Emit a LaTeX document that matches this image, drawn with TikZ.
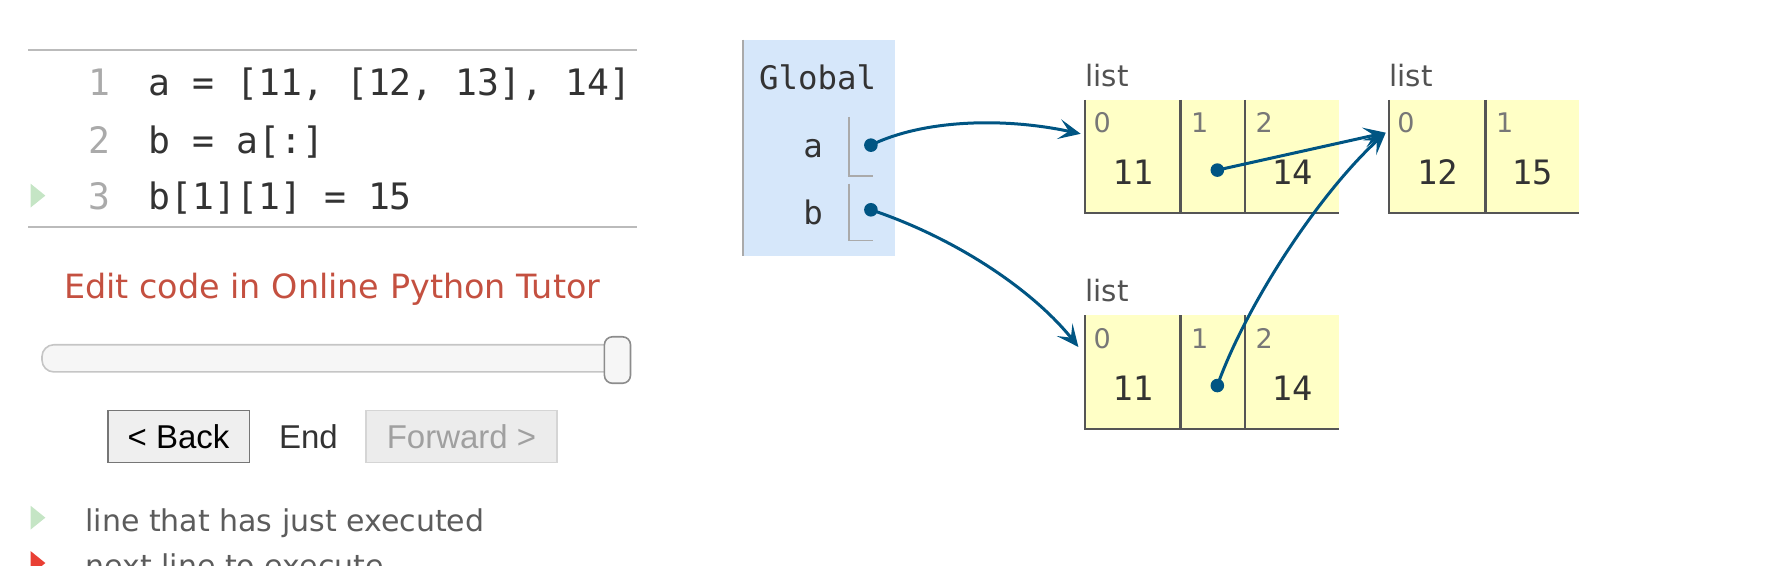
\documentclass[tikz,border=0pt]{standalone}
\usepackage{fontspec}
\setmainfont{DejaVu Sans}
\newfontfamily\codefont{DejaVu Sans Mono}
\newfontfamily\btnfont{Liberation Sans}
\usepackage{xcolor}
\usetikzlibrary{positioning, calc, arrows.meta}

\newcommand{\pxu}{0.567pt}

\definecolor{rulegray}{HTML}{BBBBBB}
\definecolor{codegray}{HTML}{333333}
\definecolor{linenogray}{HTML}{AAAAAA}
\definecolor{donegreen}{HTML}{C5E5C5}
\definecolor{nextred}{HTML}{E93F34}
\definecolor{editred}{RGB}{196,80,64}
\definecolor{trackfill}{HTML}{F6F6F6}
\definecolor{trackborder}{HTML}{C5C5C5}
\definecolor{handleborder}{HTML}{8C8C8C}
\definecolor{btnfill}{HTML}{EFEFEF}
\definecolor{btnborder}{HTML}{767676}
\definecolor{offborder}{HTML}{D5D5D5}
\definecolor{offtext}{HTML}{A0A0A0}
\definecolor{framefill}{RGB}{214,231,250}
\definecolor{framebar}{HTML}{AAAAAA}
\definecolor{listfill}{HTML}{FFFFC6}
\definecolor{celldark}{HTML}{555555}
\definecolor{idxgray}{HTML}{777777}
\definecolor{ptblue}{HTML}{005583}

\begin{document}
\begin{tikzpicture}[
    x=0.567pt, y=-0.567pt,
    rule/.style={rulegray, line width=1.1pt},
    code/.style={anchor=base west, inner sep=0pt, text=codegray, font=\codefont\fontsize{18.2}{22}\selectfont},
    lineno/.style={anchor=base east, inner sep=0pt, text=linenogray, font=\codefont\fontsize{18.2}{22}\selectfont},
    button/.style={rectangle, draw=btnborder, fill=btnfill, line width=0.8pt, minimum height=46*\pxu, inner sep=0pt, font=\btnfont\fontsize{16.5}{20}\selectfont},
    legend/.style={anchor=base west, inner sep=0pt, text=codegray!80, font=\fontsize{15}{18}\selectfont},
    frame/.style={rectangle, fill=framefill, inner sep=0pt, outer sep=0pt, anchor=north west},
    varname/.style={inner sep=0pt, text=codegray, font=\codefont\fontsize{16.2}{20}\selectfont},
    slot/.style={framebar, line width=0.9pt},
    cell/.style={rectangle, fill=listfill, minimum height=100*\pxu, inner sep=0pt, outer sep=0pt, anchor=north west},
    cellborder/.style={celldark, line width=1.1pt},
    typelabel/.style={anchor=base west, inner sep=0pt, text=codegray!85, font=\fontsize{14.7}{18}\selectfont},
    idx/.style={anchor=base west, inner sep=0pt, text=idxgray, font=\fontsize{13.5}{16}\selectfont},
    val/.style={anchor=base, inner sep=0pt, text=codegray, font=\codefont\fontsize{16.8}{20}\selectfont},
    ptr/.style={circle, fill=ptblue, inner sep=0pt, minimum size=12*\pxu},
    ref/.style={ptblue, line width=1.5pt, -{Stealth[length=11pt, width=10pt, inset=5pt]}}
]
\useasboundingbox (0,0) rectangle (1568.8,499.1);

% Code listing
\draw[rule] (25,44) -- (562,44);
\node[lineno] (n1) at (98,84) {1};
\node[lineno] (n2) at (98,135) {2};
\node[lineno] (n3) at (98,185) {3};
\node[code] (c1) at (131,84) {a = [11, [12, 13], 14]};
\node[code] (c2) at (131,135) {b = a[:]};
\node[code] (c3) at (131,185) {b[1][1] = 15};
\fill[donegreen] (27,162) -- (40,172.5) -- (27,183) -- cycle;
\draw[rule] (25,200) -- (562,200);

% Controls
\node[text=editred, font=\fontsize{16.7}{20}\selectfont] (edit) at (293,255) {Edit code in Online Python Tutor};
\draw[trackborder, fill=trackfill, line width=0.8pt, rounded corners=6pt] (37,304) rectangle (555,328);
\draw[handleborder, fill=trackfill, line width=0.8pt, rounded corners=4pt] (533,297) rectangle (556,338);
\node[button, minimum width=125*\pxu] (back) at (157.5,385) {< Back};
\node[inner sep=0pt, text=codegray, font=\btnfont\fontsize{16.5}{20}\selectfont, right=25*\pxu of back] (endlbl) {End};
\node[button, minimum width=168*\pxu, draw=offborder, fill=btnfill!90!gray!70!white, text=offtext] (fwd) at (407,385) {Forward >};

% Legend
\fill[donegreen] (27,446) -- (40,456.5) -- (27,467) -- cycle;
\node[legend] (done) at (75,469) {line that has just executed};
\fill[nextred] (27,486) -- (40,496.5) -- (27,507) -- cycle;
\node[legend] (next) at (75,508) {next line to execute};

% Global frame
\node[frame, minimum width=134*\pxu, minimum height=191*\pxu] (global) at (655,35) {};
\draw[framebar, line width=1.2pt] (global.north west) -- (global.south west);
\node[varname] (glbl) at (721,68) {Global};
\node[varname] (va) at (717,131) {a};
\node[varname] (vb) at (717,187) {b};
\draw[slot] (749,103) |- (770,155);
\draw[slot] (749,162) |- (770,212);
\node[ptr] (adot) at (768,128) {};
\node[ptr] (bdot) at (768,185) {};

% list a
\node[cell, minimum width=84*\pxu] (l1c0) at (957,88) {};
\node[cell, minimum width=57*\pxu, right=0pt of l1c0] (l1c1) {};
\node[cell, minimum width=83*\pxu, right=0pt of l1c1] (l1c2) {};
\draw[cellborder] (l1c0.north west) -- (l1c0.south west) -- (l1c2.south east);
\draw[cellborder] (l1c1.north west) -- (l1c1.south west);
\draw[cellborder] (l1c2.north west) -- (l1c2.south west);
\node[typelabel] at ($(l1c0.north west)+(0,-12)$) {list};
\node[idx] at ($(l1c0.north west)+(7,29)$) {0};
\node[idx] at ($(l1c1.north west)+(9,29)$) {1};
\node[idx] at ($(l1c2.north west)+(9,29)$) {2};
\node[val] at ($(l1c0.north)+(0,75)$) {11};
\node[ptr] (l1dot) at ($(l1c1.north)+(4,62)$) {};
\node[val] at ($(l1c2.north)+(0,75)$) {14};

% inner list
\node[cell, minimum width=85*\pxu] (l2c0) at (1225,88) {};
\node[cell, minimum width=82*\pxu, right=0pt of l2c0] (l2c1) {};
\draw[cellborder] (l2c0.north west) -- (l2c0.south west) -- (l2c1.south east);
\draw[cellborder] (l2c1.north west) -- (l2c1.south west);
\node[typelabel] at ($(l2c0.north west)+(0,-12)$) {list};
\node[idx] at ($(l2c0.north west)+(7,29)$) {0};
\node[idx] at ($(l2c1.north west)+(9,29)$) {1};
\node[val] at ($(l2c0.north)+(0,75)$) {12};
\node[val] at ($(l2c1.north)+(0,75)$) {15};

% list b
\node[cell, minimum width=84*\pxu] (l3c0) at (957,278) {};
\node[cell, minimum width=57*\pxu, right=0pt of l3c0] (l3c1) {};
\node[cell, minimum width=83*\pxu, right=0pt of l3c1] (l3c2) {};
\draw[cellborder] (l3c0.north west) -- (l3c0.south west) -- (l3c2.south east);
\draw[cellborder] (l3c1.north west) -- (l3c1.south west);
\draw[cellborder] (l3c2.north west) -- (l3c2.south west);
\node[typelabel] at ($(l3c0.north west)+(0,-12)$) {list};
\node[idx] at ($(l3c0.north west)+(7,29)$) {0};
\node[idx] at ($(l3c1.north west)+(9,29)$) {1};
\node[idx] at ($(l3c2.north west)+(9,29)$) {2};
\node[val] at ($(l3c0.north)+(0,75)$) {11};
\node[ptr] (l3dot) at ($(l3c1.north)+(4,62)$) {};
\node[val] at ($(l3c2.north)+(0,75)$) {14};

% Pointer targets
\coordinate (l1in) at ($(l1c0.north west)+(-4,30)$);
\coordinate (l2in) at ($(l2c0.north west)+(-3,29)$);
\coordinate (l3in) at ($(l3c0.north west)+(-6,28)$);

% References
\draw[ref] (adot.center) .. controls +(45,-22) and +(-70,-15) .. (l1in);
\draw[ref] (bdot.center) .. controls +(75,25) and +(-40,-50) .. (l3in);
\draw[ref] (l1dot.center) -- (l2in);
\draw[ref] (l3dot.center) .. controls +(25,-70) and +(-60,55) .. (l2in);

\end{tikzpicture}
\end{document}
